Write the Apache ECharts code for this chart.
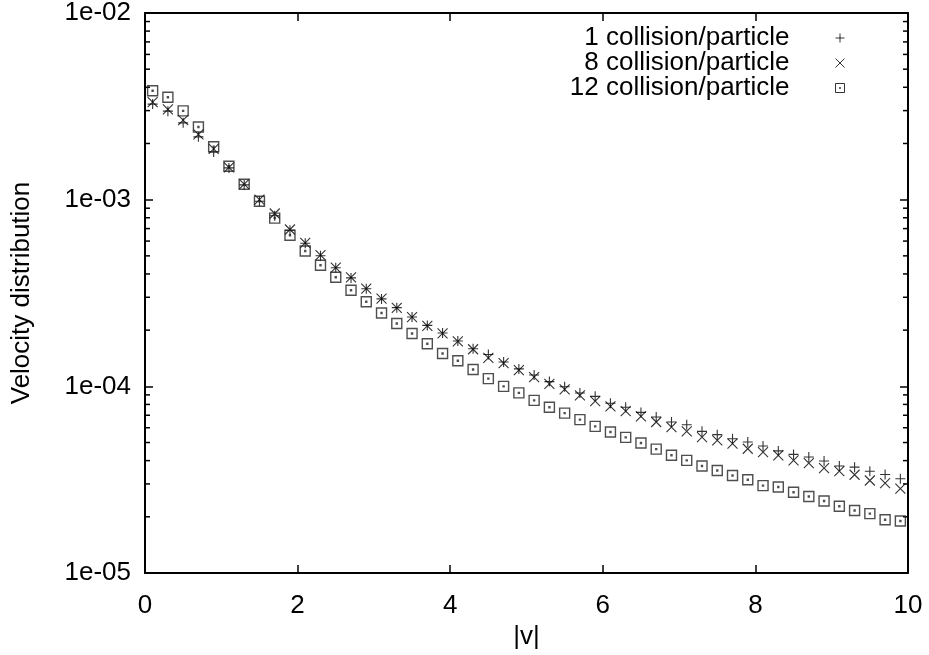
<!DOCTYPE html>
<html>
<head>
<meta charset="utf-8">
<script src="https://cdn.jsdelivr.net/npm/echarts@6/dist/echarts.min.js"></script>
<style>
html,body{margin:0;padding:0;background:#fff;}
#main{width:929px;height:655px;}
</style>
</head>
<body>
<div id="main"></div>
<script>
// ---- data ----
const seriesNames = ['1 collision/particle', '8 collision/particle', '12 collision/particle'];
const vValues = [0.1,0.3,0.5,0.7,0.9,1.1,1.3,1.5,1.7,1.9,2.1,2.3,2.5,2.7,2.9,3.1,3.3,3.5,3.7,3.9,
                 4.1,4.3,4.5,4.7,4.9,5.1,5.3,5.5,5.7,5.9,6.1,6.3,6.5,6.7,6.9,7.1,7.3,7.5,7.7,7.9,
                 8.1,8.3,8.5,8.7,8.9,9.1,9.3,9.5,9.7,9.9];
const coll1 = [3.25e-3,2.98e-3,2.58e-3,2.17e-3,1.80e-3,1.48e-3,1.20e-3,9.8e-4,8.2e-4,6.86e-4,
               5.84e-4,5.01e-4,4.32e-4,3.81e-4,3.33e-4,2.94e-4,2.64e-4,2.35e-4,2.12e-4,1.93e-4,
               1.75e-4,1.59e-4,1.48e-4,1.35e-4,1.24e-4,1.15e-4,1.06e-4,9.94e-5,9.21e-5,8.84e-5,
               8.11e-5,7.72e-5,7.25e-5,6.85e-5,6.44e-5,6.23e-5,5.74e-5,5.51e-5,5.24e-5,5.03e-5,
               4.79e-5,4.51e-5,4.32e-5,4.18e-5,3.98e-5,3.74e-5,3.69e-5,3.51e-5,3.37e-5,3.20e-5];
const coll8 = [3.33e-3,3.05e-3,2.67e-3,2.24e-3,1.87e-3,1.49e-3,1.21e-3,1.00e-3,8.43e-4,6.92e-4,
               5.87e-4,5.04e-4,4.33e-4,3.83e-4,3.34e-4,2.95e-4,2.63e-4,2.35e-4,2.11e-4,1.92e-4,
               1.74e-4,1.58e-4,1.42e-4,1.33e-4,1.22e-4,1.12e-4,1.03e-4,9.63e-5,8.95e-5,8.34e-5,
               7.81e-5,7.37e-5,6.90e-5,6.44e-5,6.05e-5,5.74e-5,5.35e-5,5.13e-5,4.93e-5,4.63e-5,
               4.44e-5,4.27e-5,4.01e-5,3.88e-5,3.65e-5,3.51e-5,3.36e-5,3.13e-5,3.03e-5,2.83e-5];
const coll12 = [3.83e-3,3.54e-3,2.99e-3,2.45e-3,1.92e-3,1.51e-3,1.21e-3,9.8e-4,7.96e-4,6.45e-4,
                5.31e-4,4.45e-4,3.84e-4,3.27e-4,2.84e-4,2.47e-4,2.17e-4,1.92e-4,1.69e-4,1.50e-4,
                1.37e-4,1.23e-4,1.10e-4,1.00e-4,9.23e-5,8.41e-5,7.72e-5,7.19e-5,6.63e-5,6.10e-5,
                5.69e-5,5.33e-5,4.97e-5,4.61e-5,4.27e-5,4.01e-5,3.74e-5,3.54e-5,3.33e-5,3.16e-5,
                2.94e-5,2.89e-5,2.71e-5,2.57e-5,2.43e-5,2.28e-5,2.16e-5,2.08e-5,1.93e-5,1.90e-5];
const xTicks = [0, 2, 4, 6, 8, 10];
const yTicks = [1e-5, 1e-4, 1e-3, 1e-2];

// ---- styling ----
const FONT = 'Liberation Sans, Arial, Helvetica, sans-serif';
const FS = 26;
const symbols = [
  'path://M0,5L10,5M5,0L5,10',
  'path://M0,0L10,10M10,0L0,10',
  'path://M0,0L10,0L10,10L0,10ZM4.5,4.5L5.5,4.5L5.5,5.5L4.5,5.5Z'
];
const seriesData = [coll1, coll8, coll12];

// gnuplot-style log minor ticks (2..9 within each decade)
const minorTicks = [];
for (let k = -5; k <= -3; k++) {
  for (let m = 2; m <= 9; m++) minorTicks.push(m * Math.pow(10, k));
}

const axisLineStyle = {show: true, onZero: false, lineStyle: {color: '#000', width: 2}};
const tickStyle = {show: true, inside: true, length: 8, lineStyle: {color: '#000', width: 1.5}};
const xMin = xTicks[0], xMax = xTicks[xTicks.length - 1];
const yMin = yTicks[0], yMax = yTicks[yTicks.length - 1];

const option = {
  animation: false,
  backgroundColor: '#fff',
  grid: {left: 145, right: 21, top: 13, bottom: 82, containLabel: false},
  legend: seriesNames.map((n, i) => ({
    data: [{name: n, icon: symbols[i]}],
    orient: 'vertical',
    align: 'right',
    right: 77,
    top: 20 + 25 * i,
    itemWidth: 9,
    itemHeight: 9,
    selectedMode: false,
    itemStyle: {color: 'none', borderColor: '#000', borderWidth: 1},
    textStyle: {fontSize: FS, color: '#000', fontFamily: FONT, padding: [0, 41, 0, 0]}
  })),
  xAxis: [
    {
      type: 'value', min: xMin, max: xMax, interval: 2,
      position: 'bottom',
      axisLine: axisLineStyle,
      splitLine: {show: false},
      axisTick: tickStyle,
      axisLabel: {margin: 20, fontSize: FS, color: '#000', fontFamily: FONT},
      name: '|v|', nameLocation: 'middle', nameGap: 50,
      nameTextStyle: {fontSize: FS, color: '#000', fontFamily: FONT}
    },
    {
      type: 'value', min: xMin, max: xMax, interval: 2,
      position: 'top',
      axisLine: axisLineStyle,
      splitLine: {show: false},
      axisTick: tickStyle,
      axisLabel: {show: false}
    }
  ],
  yAxis: [
    {
      type: 'log', logBase: 10, min: yMin, max: yMax,
      position: 'left',
      axisLine: axisLineStyle,
      splitLine: {show: false},
      axisTick: tickStyle,
      axisLabel: {
        show: true, margin: 14, fontSize: FS, color: '#000', fontFamily: FONT,
        formatter: function (v) {
          const e = Math.round(Math.log10(v));
          return '1e-' + String(-e).padStart(2, '0');
        }
      },
      name: 'Velocity distribution', nameLocation: 'middle', nameGap: 110, nameRotate: 90,
      nameTextStyle: {fontSize: FS, color: '#000', fontFamily: FONT}
    },
    {
      type: 'log', logBase: 10, min: yMin, max: yMax,
      position: 'right',
      axisLine: axisLineStyle,
      splitLine: {show: false},
      axisTick: tickStyle,
      axisLabel: {show: false}
    }
  ],
  series: seriesNames.map((n, i) => ({
    name: n,
    type: 'scatter',
    xAxisIndex: 0,
    yAxisIndex: 0,
    symbol: symbols[i],
    symbolSize: 10,
    itemStyle: {color: 'none', borderColor: i === 2 ? '#222' : '#000', borderWidth: i === 2 ? 1.4 : 1.1},
    emphasis: {disabled: true},
    data: vValues.map((x, j) => [x, seriesData[i][j]])
  })).concat([{
    // minor tick marks on left and right frame
    type: 'custom',
    xAxisIndex: 0,
    yAxisIndex: 0,
    silent: true,
    clip: false,
    data: minorTicks.map(v => [xMin, v]),
    renderItem: function (params, api) {
      const y = api.value(1);
      const pl = api.coord([xMin, y]);
      const pr = api.coord([xMax, y]);
      const st = {stroke: '#000', lineWidth: 1.5};
      return {
        type: 'group',
        children: [
          {type: 'line', shape: {x1: pl[0], y1: pl[1], x2: pl[0] + 5, y2: pl[1]}, style: st},
          {type: 'line', shape: {x1: pr[0], y1: pr[1], x2: pr[0] - 5, y2: pr[1]}, style: st}
        ]
      };
    }
  }])
};

const chart = echarts.init(document.getElementById('main'), null, {renderer: 'canvas'});
chart.setOption(option);
</script>
</body>
</html>
